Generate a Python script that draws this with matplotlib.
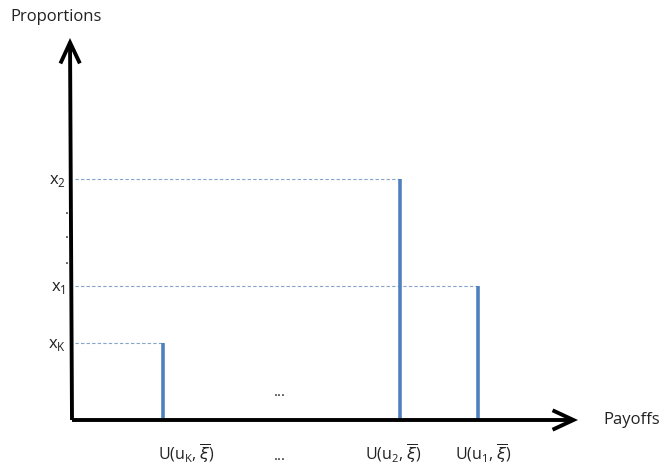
import matplotlib
matplotlib.use("Agg")
import matplotlib.pyplot as plt
from matplotlib.patches import FancyArrowPatch

plt.rcParams['font.family'] = ['Open Sans', 'DejaVu Sans']
plt.rcParams['mathtext.fontset'] = 'dejavusans'

# Data (in diagram units, origin at the axes corner)
bar_labels = [r'U(u$_\mathregular{K}$, $\overline{\xi}$)', r'U(u$_\mathregular{2}$, $\overline{\xi}$)', r'U(u$_\mathregular{1}$, $\overline{\xi}$)']
bar_positions = [91, 328, 406]
bar_heights = [77, 241, 134]
y_labels = [r'x$_\mathregular{K}$', r'x$_\mathregular{2}$', r'x$_\mathregular{1}$']
xtick_centers = [114, 321, 411]
ellipsis_x = 208

fig = plt.figure(figsize=(6.71, 4.66), dpi=100)
ax = fig.add_axes([0, 0, 1, 1])
ax.set_xlim(-72, 599)
ax.set_ylim(-46, 420)
ax.axis('off')

bar_color = '#4f81bd'
dash_color = '#86a3c9'

for x, h in zip(bar_positions, bar_heights):
    ax.plot([x, x], [0, h], color=bar_color, lw=2.6, solid_capstyle='butt', zorder=3)
    ax.plot([3, x], [h, h], color=dash_color, lw=0.8, ls=(0, (3, 2)), zorder=2)

# axes arrows
for start, end in [((0, 0), (-2, 382)), ((0, 0), (506, 0))]:
    arr = FancyArrowPatch(start, end, arrowstyle='->,head_length=0.75,head_width=0.35',
                          mutation_scale=20, lw=2.8, color='black', zorder=4,
                          shrinkA=0, shrinkB=0, capstyle='butt', joinstyle='miter')
    ax.add_patch(arr)

# y labels
for lab, h in zip(y_labels, bar_heights):
    ax.text(-6, h - 2, lab, ha='right', va='center', fontsize=12, color='#222222')
for yy in [210, 185, 160]:
    ax.text(-5, yy, '.', ha='center', va='center', fontsize=11, color='#222222')

# x labels
for lab, cx in zip(bar_labels, xtick_centers):
    ax.text(cx, -34, lab, ha='center', va='center', fontsize=11.5, color='#222222')
ax.text(ellipsis_x, -37, '...', ha='center', va='center', fontsize=11, color='#222222')
ax.text(ellipsis_x, 27, '...', ha='center', va='center', fontsize=11, color='#222222')

ax.text(-62, 403, 'Proportions', ha='left', va='center', fontsize=12, color='#222222')
ax.text(531, 0, 'Payoffs', ha='left', va='center', fontsize=12, color='#222222')

fig.savefig('out.png', dpi=100)
